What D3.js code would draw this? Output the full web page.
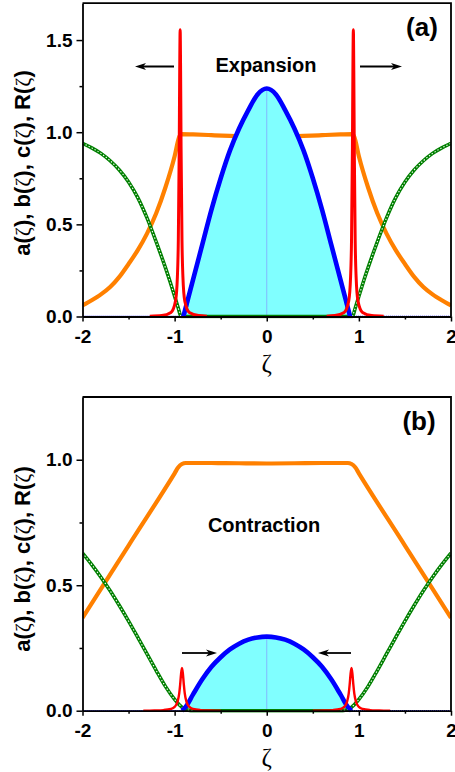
<!DOCTYPE html>
<html><head><meta charset="utf-8">
<script src="https://cdn.jsdelivr.net/npm/d3@7"></script>
<style>body{margin:0;background:#fff}</style>
</head><body><svg id="c" width="455" height="772"></svg>
<script>
// ---------- tick labels ----------
const xTicks = [-2, -1, 0, 1, 2];
const xMinor = [-1.5, -0.5, 0.5, 1.5];
const yTicksA = [0, 0.5, 1.0, 1.5];
const yMinorA = [0.25, 0.75, 1.25];
const yTicksB = [0, 0.5, 1.0];
const yMinorB = [0.25, 0.75];

// ---------- panel (a): Expansion ----------
const orangeA_z = [-2,-1.9,-1.8,-1.7,-1.6,-1.5,-1.4,-1.3,-1.2,-1.1,-1.0,-0.95,-0.93,-0.8,-0.6,-0.4,-0.2,0,0.2,0.4,0.6,0.8,0.93,0.95,1.0,1.1,1.2,1.3,1.4,1.5,1.6,1.7,1.8,1.9,2];
const orangeA_v = [0.06,0.088,0.12,0.16,0.215,0.285,0.36,0.45,0.56,0.70,0.87,0.975,0.99,0.988,0.984,0.98,0.977,0.976,0.977,0.98,0.984,0.988,0.99,0.975,0.87,0.70,0.56,0.45,0.36,0.285,0.215,0.16,0.12,0.088,0.06];

const greenA_z = [-2,-1.9,-1.8,-1.7,-1.6,-1.5,-1.4,-1.3,-1.2,-1.1,-1.05,-1.0,-0.96,-0.93,0.93,0.96,1.0,1.05,1.1,1.2,1.3,1.4,1.5,1.6,1.7,1.8,1.9,2];
const greenA_v = [0.94,0.915,0.885,0.845,0.795,0.73,0.645,0.535,0.405,0.265,0.19,0.11,0.045,0,0,0.045,0.11,0.19,0.265,0.405,0.535,0.645,0.73,0.795,0.845,0.885,0.915,0.94];

const blueA_z = [-2,-0.905,-0.8,-0.7,-0.6,-0.5,-0.4,-0.3,-0.2,-0.1,0,0.1,0.2,0.3,0.4,0.5,0.6,0.7,0.8,0.905,2];
const blueA_v = [0,0,0.2,0.39,0.58,0.75,0.90,1.02,1.12,1.205,1.237,1.205,1.12,1.02,0.90,0.75,0.58,0.39,0.2,0,0];

const redA1_z = [-1.27,-1.14,-1.04,-0.99,-0.97,-0.96,-0.95,-0.945,-0.94,-0.935,-0.93,-0.92,-0.91,-0.89,-0.84,-0.74,-0.65];
const redA2_z = [0.65,0.74,0.84,0.89,0.91,0.92,0.93,0.935,0.94,0.945,0.95,0.96,0.97,0.99,1.04,1.14,1.27];
const redA_v  = [0.002,0.005,0.022,0.085,0.215,0.41,0.92,1.33,1.556,1.33,0.92,0.41,0.215,0.085,0.022,0.005,0.002];

// ---------- panel (b): Contraction ----------
const orangeB_z = [-2,-1.5,-1.0,-0.96,-0.92,-0.88,-0.6,-0.3,0,0.3,0.6,0.88,0.92,0.96,1.0,1.5,2];
const orangeB_v = [0.37,0.658,0.946,0.97,0.983,0.987,0.987,0.986,0.985,0.986,0.987,0.987,0.983,0.97,0.946,0.658,0.37];

const greenB_z = [-2,-1.9,-1.8,-1.7,-1.6,-1.5,-1.4,-1.3,-1.2,-1.1,-1.0,-0.95,-0.9,-0.85,-0.8,0.8,0.85,0.9,0.95,1.0,1.1,1.2,1.3,1.4,1.5,1.6,1.7,1.8,1.9,2];
const greenB_v = [0.628,0.582,0.532,0.478,0.419,0.357,0.292,0.226,0.16,0.097,0.045,0.024,0.009,0.002,0,0,0.002,0.009,0.024,0.045,0.097,0.16,0.226,0.292,0.357,0.419,0.478,0.532,0.582,0.628];

const blueB_z = [-2,-0.92,-0.88,-0.8,-0.7,-0.6,-0.5,-0.4,-0.3,-0.2,-0.1,0,0.1,0.2,0.3,0.4,0.5,0.6,0.7,0.8,0.88,0.92,2];
const blueB_v = [0,0,0.015,0.065,0.125,0.175,0.213,0.244,0.267,0.283,0.292,0.295,0.292,0.283,0.267,0.244,0.213,0.175,0.125,0.065,0.015,0,0];

const redB1_z = [-1.34,-1.22,-1.12,-1.04,-1.0,-0.97,-0.95,-0.94,-0.93,-0.92,-0.91,-0.9,-0.89,-0.87,-0.84,-0.8,-0.72,-0.62,-0.5];
const redB2_z = [0.5,0.62,0.72,0.8,0.84,0.87,0.89,0.9,0.91,0.92,0.93,0.94,0.95,0.97,1.0,1.04,1.12,1.22,1.34];
const redB_v  = [0,0.001,0.0025,0.007,0.015,0.034,0.069,0.104,0.147,0.17,0.147,0.104,0.069,0.034,0.015,0.007,0.0025,0.001,0];

// ---------- colours ----------
const C_ORANGE = "#FF8000", C_GREEN = "#008000", C_BLUE = "#0000FF", C_RED = "#FF0000", C_FILL = "#80FFFF", C_DROP = "#80B8FF";

const svg = d3.select("#c");
const zip = (z, v) => z.map((d, i) => ({z: d, v: v[i]}));

function panel(cfg) {
  const x = d3.scaleLinear().domain([-2, 2]).range([82.5, 451]);
  const y = d3.scaleLinear().domain([0, cfg.ymax]).range([cfg.bottom, cfg.top]);
  const g = svg.append("g");
  const clipId = "clip" + cfg.id;
  svg.append("clipPath").attr("id", clipId).append("rect")
    .attr("x", 82.5).attr("y", cfg.top).attr("width", 451 - 82.5).attr("height", cfg.bottom - cfg.top + 2);
  const plot = g.append("g").attr("clip-path", `url(#${clipId})`);
  const line = d3.line().x(d => x(d.z)).y(d => y(d.v)).curve(d3.curveMonotoneX);
  const area = d3.area().x(d => x(d.z)).y0(y(0)).y1(d => y(d.v)).curve(d3.curveMonotoneX);

  const orange = zip(cfg.orangeZ, cfg.orangeV);
  const green = zip(cfg.greenZ, cfg.greenV);
  const blue = zip(cfg.blueZ, cfg.blueV);
  const hump = blue.filter(d => Math.abs(d.z) <= cfg.blueEdge);

  // orange
  plot.append("path").attr("d", line(orange)).attr("fill", "none")
    .attr("stroke", C_ORANGE).attr("stroke-width", 4.2).attr("stroke-linejoin", "round");
  // cyan fill under blue
  plot.append("path").attr("d", area(hump)).attr("fill", C_FILL);
  // drop line at peak
  const peak = hump.reduce((a, b) => (b.v > a.v ? b : a));
  plot.append("line").attr("x1", x(peak.z)).attr("x2", x(peak.z))
    .attr("y1", y(0)).attr("y2", y(peak.v)).attr("stroke", C_DROP).attr("stroke-width", 1);
  // blue thin baseline
  plot.append("path").attr("d", line(blue)).attr("fill", "none")
    .attr("stroke", C_BLUE).attr("stroke-width", 1.6).attr("stroke-dasharray", "1.2,0.8");
  // green: open-square band
  plot.append("path").attr("d", line(green)).attr("fill", "none")
    .attr("stroke", C_GREEN).attr("stroke-width", 3.6).attr("stroke-linejoin", "round");
  [green.filter(d => d.z < 0), green.filter(d => d.z > 0)].forEach(seg => {
    const s = seg.filter(d => Math.abs(d.z) >= cfg.greenEdge);
    plot.append("path").attr("d", line(s)).attr("fill", "none")
      .attr("stroke", "#ffffff").attr("stroke-width", 1.1).attr("stroke-dasharray", "1.4,2.0");
  });
  // blue hump thick
  plot.append("path").attr("d", line(hump)).attr("fill", "none")
    .attr("stroke", C_BLUE).attr("stroke-width", 4.6).attr("stroke-linejoin", "round");
  // red spikes
  [zip(cfg.red1Z, cfg.redV), zip(cfg.red2Z, cfg.redV)].forEach(r => {
    plot.append("path").attr("d", line(r)).attr("fill", "none")
      .attr("stroke", C_RED).attr("stroke-width", cfg.redW).attr("stroke-linejoin", "round");
  });

  // frame (top + right)
  g.append("path").attr("d", `M82.5,${cfg.top}H451V${cfg.bottom}`)
    .attr("fill", "none").attr("stroke", "#000").attr("stroke-width", 1.8);

  const font = "'Liberation Sans', Arial, sans-serif";
  // axes
  const ax = g.append("g").attr("transform", `translate(0,${cfg.bottom})`)
    .call(d3.axisBottom(x).tickValues(xTicks).tickFormat(d => String(d)).tickSize(5).tickPadding(8).tickSizeOuter(0));
  g.append("g").attr("transform", `translate(0,${cfg.bottom})`)
    .call(d3.axisBottom(x).tickValues(xMinor).tickFormat("").tickSize(3).tickSizeOuter(0))
    .call(s => s.select(".domain").remove());
  const ay = g.append("g").attr("transform", `translate(82.5,0)`)
    .call(d3.axisLeft(y).tickValues(cfg.yTicks).tickFormat(d3.format(".1f")).tickSize(6).tickPadding(4).tickSizeOuter(0));
  g.append("g").attr("transform", `translate(82.5,0)`)
    .call(d3.axisLeft(y).tickValues(cfg.yMinor).tickFormat("").tickSize(3).tickSizeOuter(0))
    .call(s => s.select(".domain").remove());
  g.selectAll(".domain").attr("stroke-width", 1.8);
  g.selectAll(".tick line").attr("stroke-width", 1.5);
  [ax, ay].forEach(a => a.selectAll("text").attr("font-family", font).attr("font-weight", "bold")
    .attr("font-size", 19).attr("fill", "#000"));

  // x label
  g.append("text").attr("x", x(0)).attr("y", cfg.bottom + 55).attr("text-anchor", "middle")
    .attr("font-family", "'Liberation Serif', 'DejaVu Serif', serif").attr("font-size", 25).text("ζ");

  // y label
  const yl = g.append("text").attr("transform", `translate(30,${cfg.ylabY}) rotate(-90)`)
    .attr("text-anchor", "middle").attr("font-family", font).attr("font-weight", "bold").attr("font-size", 22);
  const parts = ["a(", "ζ", "), b(", "ζ", "), c(", "ζ", "), R(", "ζ", ")"];
  parts.forEach(p => {
    const t = yl.append("tspan").text(p);
    if (p === "ζ") t.attr("font-family", "'Liberation Serif', 'DejaVu Serif', serif").attr("font-weight", "normal");
  });

  // panel letter
  g.append("text").attr("x", cfg.letterX).attr("y", cfg.top + 33).attr("text-anchor", "middle")
    .attr("font-family", font).attr("font-weight", "bold").attr("font-size", 26).text(cfg.letter);
  // title
  g.append("text").attr("x", cfg.titleX).attr("y", cfg.titleY).attr("text-anchor", "middle")
    .attr("font-family", font).attr("font-weight", "bold").attr("font-size", 20).text(cfg.title);

  // arrows
  cfg.arrows.forEach(([x1, x2, yy]) => {
    const dir = Math.sign(x2 - x1);
    g.append("line").attr("x1", x1).attr("x2", x2 - dir * 6).attr("y1", yy).attr("y2", yy)
      .attr("stroke", "#000").attr("stroke-width", 1.8);
    g.append("path").attr("d", `M${x2},${yy}L${x2 - dir * 11},${yy - 3.5}L${x2 - dir * 8},${yy}L${x2 - dir * 11},${yy + 3.5}Z`)
      .attr("fill", "#000");
  });
}

panel({
  id: "a", top: 3.2, bottom: 316.5, ymax: 1.7, yTicks: yTicksA, yMinor: yMinorA,
  orangeZ: orangeA_z, orangeV: orangeA_v, greenZ: greenA_z, greenV: greenA_v,
  blueZ: blueA_z, blueV: blueA_v, blueEdge: 0.905, greenEdge: 0.93,
  red1Z: redA1_z, red2Z: redA2_z, redV: redA_v, redW: 3,
  ylabY: 163, letter: "(a)", letterX: 422, title: "Expansion", titleX: 266, titleY: 72,
  arrows: [[174, 135, 66.5], [360, 402, 66.5]]
});
panel({
  id: "b", top: 397, bottom: 710.7, ymax: 1.25, yTicks: yTicksB, yMinor: yMinorB,
  orangeZ: orangeB_z, orangeV: orangeB_v, greenZ: greenB_z, greenV: greenB_v,
  blueZ: blueB_z, blueV: blueB_v, blueEdge: 0.92, greenEdge: 0.8,
  red1Z: redB1_z, red2Z: redB2_z, redV: redB_v, redW: 2.4,
  ylabY: 559, letter: "(b)", letterX: 419, title: "Contraction", titleX: 264, titleY: 532,
  arrows: [[182, 217, 653], [351, 318, 653]]
});
</script>
</body></html>
